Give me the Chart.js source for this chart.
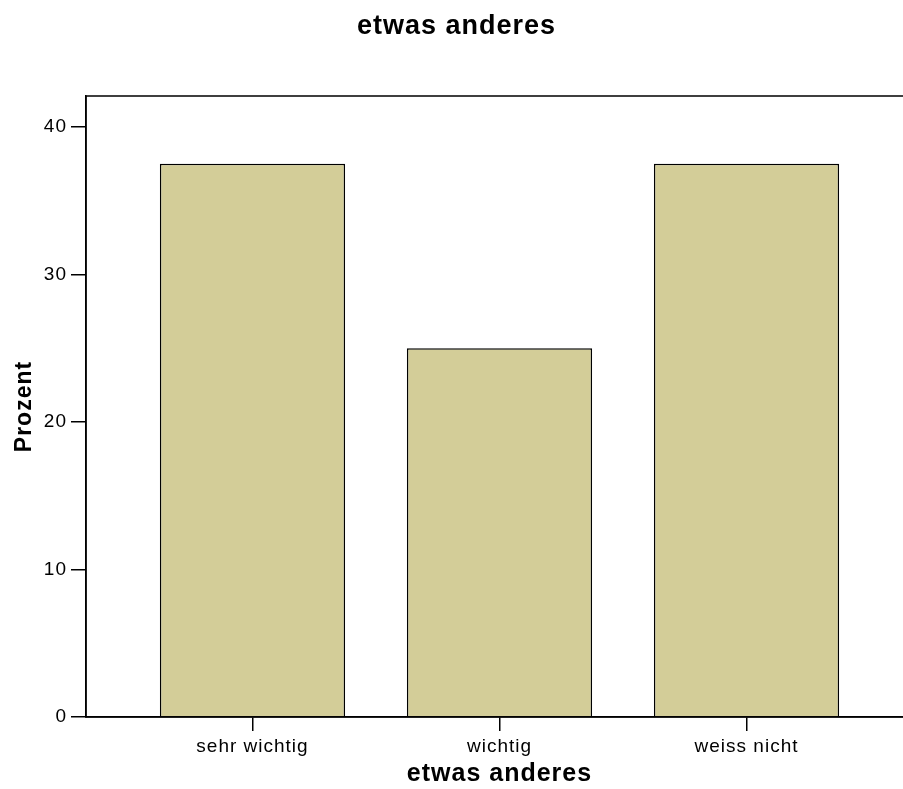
<!DOCTYPE html>
<html>
<head>
<meta charset="utf-8">
<script src="https://cdn.jsdelivr.net/npm/chart.js@4"></script>
<style>
  html, body { margin: 0; padding: 0; background: #fff; overflow: hidden; }
</style>
</head>
<body>
<canvas id="chart" width="914" height="789"></canvas>
<script>
var categories = ["sehr wichtig", "wichtig", "weiss nicht"];
var percentValues = [37.5, 25.0, 37.5];
var yTickValues = [0, 10, 20, 30, 40];

// Linear x positions 1..n so the wide side gaps of the original can be kept
var points = percentValues.map(function (v, i) {
    return { x: i + 1, y: v };
});

// The original text is a bit spaced out
var spacingPlugin = {
    id: "spacing",
    beforeInit: function (chart) {
        chart.ctx.letterSpacing = "1px";
    },
    beforeDraw: function (chart) {
        chart.ctx.letterSpacing = "1px";
    },
};

// Frame around the plot area
var framePlugin = {
    id: "frame",
    afterDraw: function (chart) {
        var a = chart.chartArea;
        var ctx = chart.ctx;
        ctx.save();
        ctx.strokeStyle = "#000";
        ctx.lineWidth = 1.5;
        ctx.strokeRect(a.left, a.top, a.right - a.left, a.bottom - a.top);
        ctx.restore();
    },
};

var ctx = document.getElementById("chart").getContext("2d");
ctx.letterSpacing = "1px";

var chartOptions = {
    responsive: false,
    animation: false,
    layout: { padding: { left: 0, right: 1, top: 0, bottom: 0 } },
    plugins: {
        legend: { display: false },
        tooltip: { enabled: false },
        title: {
            display: true,
            text: "etwas anderes",
            color: "#000",
            font: { family: "Liberation Sans", size: 27, weight: "bold" },
            padding: { top: 10, bottom: 53.6 },
        },
    },
    scales: {
        x: {
            type: "linear",
            offset: false,
            min: 0.326,
            max: 3.674,
            afterBuildTicks: function (scale) {
                scale.ticks = categories.map(function (c, i) {
                    return { value: i + 1 };
                });
            },
            afterFit: function (scale) {
                scale.height = 72;
            },
            ticks: {
                color: "#000",
                font: { family: "Liberation Sans", size: 19 },
                padding: 4,
                maxRotation: 0,
                autoSkip: false,
                callback: function (value) {
                    return categories[value - 1];
                },
            },
            grid: {
                offset: false,
                drawOnChartArea: false,
                drawTicks: true,
                tickLength: 14,
                color: "#000",
                lineWidth: 1.5,
            },
            border: { display: true, color: "#000", width: 1.5 },
            title: {
                display: true,
                text: "etwas anderes",
                color: "#000",
                font: { family: "Liberation Sans", size: 25, weight: "bold" },
                padding: { top: 2, bottom: 0 },
            },
        },
        y: {
            min: 0,
            max: 42.1,
            afterBuildTicks: function (scale) {
                scale.ticks = yTickValues.map(function (v) {
                    return { value: v };
                });
            },
            afterFit: function (scale) {
                scale.width = 86;
            },
            ticks: {
                color: "#000",
                font: { family: "Liberation Sans", size: 19 },
                padding: 4,
            },
            grid: {
                drawOnChartArea: false,
                drawTicks: true,
                tickLength: 15,
                color: "#000",
                lineWidth: 1.5,
            },
            border: { display: true, color: "#000", width: 1.5 },
            title: {
                display: true,
                text: "Prozent",
                color: "#000",
                font: { family: "Liberation Sans", size: 23, weight: "bold" },
                padding: { top: 11, bottom: 0 },
            },
        },
    },
};

var chartData = {
    datasets: [
        {
            label: "Prozent",
            data: points,
            backgroundColor: "#D3CD98",
            borderColor: "#000",
            borderWidth: 1.5,
            barPercentage: 0.75,
            categoryPercentage: 1.0,
        },
    ],
};

new Chart(ctx, {
    type: "bar",
    data: chartData,
    options: chartOptions,
    plugins: [spacingPlugin, framePlugin],
});
</script>
</body>
</html>
